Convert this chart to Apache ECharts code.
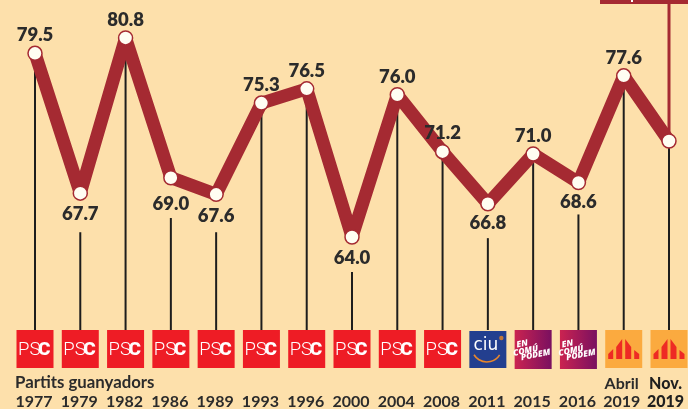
<!DOCTYPE html>
<html><head><meta charset="utf-8">
<style>html,body{margin:0;padding:0;background:#fde0ab}#c{width:688px;height:409px}</style>
<script src="https://cdn.jsdelivr.net/npm/echarts@6/dist/echarts.min.js"></script>
</head><body><div id="c"></div>
<script>
const years = ['1977','1979','1982','1986','1989','1993','1996','2000','2004','2008','2011','2015','2016','Abril\n2019','Nov.\n2019'];
const turnout = [79.5,67.7,80.8,69.0,67.6,75.3,76.5,64.0,76.0,71.2,66.8,71.0,68.6,77.6,72.1];
const winners = ['PSC','PSC','PSC','PSC','PSC','PSC','PSC','PSC','PSC','PSC','CiU','ECP','ECP','ERC','ERC'];
const leaderStart = [79.5,64.4,80.8,65.6,64.4,75.3,76.5,61.05,76.0,71.2,63.9,71.0,65.9,77.6,72.1];
const belowLabels = ['1979','1986','1989','2000','2011','2016'];

const BG='#fde0ab', RED='#a52a32', INK='#2b2b2b';
const LOGO_TOP=330, LOGO_W=37, LOGO_H=38;
const belowGap={'1979':4,'1986':9,'1989':4,'2000':4,'2011':2,'2016':2};

function psc(x){return [
  {type:'rect',shape:{x:x-LOGO_W/2,y:LOGO_TOP,width:LOGO_W,height:LOGO_H},style:{fill:'#ee1c25'}},
  {type:'text',style:{x:x-17,y:LOGO_TOP+20,text:'PS',fill:'#fff',font:'300 18.5px Roboto',verticalAlign:'middle'}},
  {type:'text',style:{x:x+3,y:LOGO_TOP+20,text:'C',fill:'#fff',font:'900 19px Roboto',verticalAlign:'middle'}}
];}
function ciu(x){return [
  {type:'rect',shape:{x:x-LOGO_W/2,y:LOGO_TOP+1,width:LOGO_W,height:LOGO_H-1},style:{fill:'#233f8f'}},
  {type:'text',style:{x:x-2,y:LOGO_TOP+16,text:'ciu',fill:'#fff',font:'400 17px "DejaVu Sans"',align:'center',verticalAlign:'middle'}},
  {type:'arc',shape:{cx:x-1,cy:LOGO_TOP+17,r:15,startAngle:0.55,endAngle:2.6},style:{stroke:'#e8872c',lineWidth:1.6,fill:null}},
  {type:'circle',shape:{cx:x+13.5,cy:LOGO_TOP+8,r:2.2},style:{fill:'#c0773a'}}
];}
function ecp(x){
  const grad=new echarts.graphic.LinearGradient(0,0,1,0,[{offset:0,color:'#cb2350'},{offset:1,color:'#7a1060'}]);
  const line=(t,dx,dy)=>({type:'text',rotation:0.2,x:x+dx,y:LOGO_TOP+dy,style:{text:t,fill:'#fff',font:'italic 900 8.5px "Open Sans"',align:'center',verticalAlign:'middle'}});
  return [
    {type:'rect',shape:{x:x-LOGO_W/2,y:LOGO_TOP,width:LOGO_W,height:LOGO_H+1},style:{fill:grad}},
    line('EN',-11,14),line('COMÚ',-7.5,21),line('PODEM',2.5,25)
  ];
}
function erc(x){
  const l=x-LOGO_W/2,t=LOGO_TOP;
  const poly=pts=>({type:'polygon',shape:{points:pts.map(p=>[l+p[0],t+p[1]])},style:{fill:'#ee2a24'}});
  return [
    {type:'rect',shape:{x:l,y:t,width:LOGO_W,height:LOGO_H},style:{fill:'#fbaa3f'}},
    poly([[3,29],[3,24],[8,19],[8,29]]),
    poly([[11,29],[11,17],[17,9],[17,29]]),
    poly([[20,29],[20,9],[26,17],[26,29]]),
    poly([[29,29],[29,20],[34,24],[34,29]])
  ];
}
const logos={PSC:psc,CiU:ciu,ECP:ecp,ERC:erc};

const chart=echarts.init(document.getElementById('c'),null,{renderer:'canvas'});
chart.setOption({
  backgroundColor:BG,
  animation:false,
  grid:{left:35,right:19,top:0,bottom:34,containLabel:false,outerBoundsMode:'none'},
  xAxis:{type:'category',data:years,boundaryGap:false,
    axisLine:{show:false},axisTick:{show:false},splitLine:{show:false},
    axisLabel:{interval:0,margin:0,color:INK,fontFamily:'Lato',fontWeight:700,fontSize:16,lineHeight:18,verticalAlign:'top',hideOverlap:false,
      formatter:v=>{
        const parts=v.split('\n');
        if(parts.length===1) return `\n{y|${v}}`;
        return v.startsWith('Nov')?`{b|${parts[0]}}\n{b|${parts[1]}}`:`{a|${parts[0]}}\n{a|${parts[1]}}`;
      },
      rich:{
        y:{fontFamily:'Lato',fontWeight:700,fontSize:16,lineHeight:18,color:INK,padding:[0,2,0,0]},
        a:{fontFamily:'Lato',fontWeight:700,fontSize:16,lineHeight:18,color:INK,padding:[0,4,0,0]},
        b:{fontFamily:'Lato',fontWeight:900,fontSize:16,lineHeight:18,color:'#1f1f1f',padding:[0,7,0,0]}
      }}},
  yAxis:{type:'value',min:52.35,max:84,show:false,splitLine:{show:false}},
  graphic:[
    {type:'rect',shape:{x:600,y:0,width:88,height:4},style:{fill:RED},z:5},
    {type:'rect',shape:{x:631,y:0,width:2,height:2},style:{fill:'#fff'},z:6},
    {type:'text',style:{x:15,y:383,text:'Partits guanyadors',fill:INK,font:'700 16.8px Lato',verticalAlign:'middle'},z:5}
  ],
  series:[
    {type:'custom',silent:true,z:1,data:years.map((y,i)=>[i,leaderStart[i],winners[i]]),
     encode:{x:0,y:1},
     renderItem(p,api){
       const i=api.value(0),c=api.coord([i,api.value(1)]);
       const line={type:'line',shape:{x1:c[0],y1:c[1],x2:c[0],y2:LOGO_TOP},style:{stroke:'#1d1d1d',lineWidth:2}};
       const kids=[line,...logos[winners[i]](c[0])];
       if(i===years.length-1) kids.unshift({type:'line',shape:{x1:c[0],y1:0,x2:c[0],y2:c[1]},style:{stroke:RED,lineWidth:3}});
       return {type:'group',children:kids};
     }},
    {type:'line',z:3,symbol:'circle',symbolSize:14,showAllSymbol:true,
     lineStyle:{color:RED,width:13,join:'bevel',cap:'round'},
     itemStyle:{color:'#fffdf2',borderColor:RED,borderWidth:1.5,opacity:1},
     label:{show:true,position:'top',distance:1,color:INK,fontFamily:'Lato',fontWeight:800,fontSize:18.5,formatter:p=>p.value.toFixed(1)},
     data:turnout.map((v,i)=>({value:v,label:belowLabels.includes(years[i])?{position:'bottom',distance:belowGap[years[i]]}:(i===14?{show:false}:{})}))}
  ]
});
</script></body></html>
